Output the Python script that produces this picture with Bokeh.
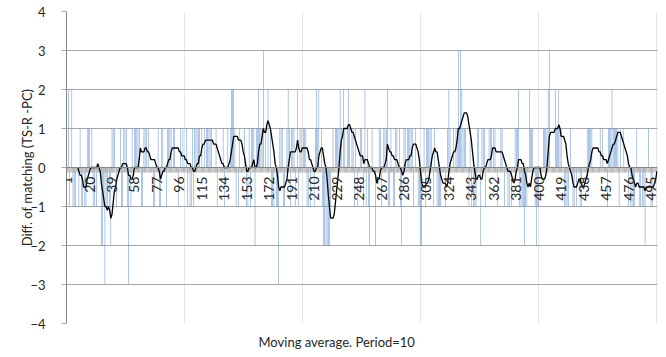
import numpy as np
from bokeh.plotting import figure
from bokeh.models import SingleIntervalTicker, Span, Title, LabelSet, ColumnDataSource
from bokeh.core.properties import value
from bokeh.embed import file_html
from bokeh.resources import INLINE

diffs = [
    0, 2, -1, 0, 2, -1, -1, -1, 0, 0,
    -1, 1, -1, -1, 0, -1, -1, 1, 1, 1,
    0, 1, -1, -1, 0, -1, 0, 0, 0, -2,
    -2, -1, -3, -1, -1, 0, -1, -2, 1, 1,
    1, 0, -1, 0, 0, 1, -1, -1, 1, 1,
    1, -1, -3, 0, -1, 1, 0, 1, 1, 1,
    1, 1, 0, -1, -1, 1, 1, 1, 0, 1,
    0, 0, 0, -1, -1, 0, 0, 1, -1, -1,
    1, 1, 0, 0, -1, 1, 1, 1, 1, 0,
    1, 1, 0, 0, -1, 0, 1, 0, 1, 0,
    0, 1, -1, 0, -1, -1, 1, -1, 1, 1,
    1, 1, 1, 0, 1, 0, 1, 0, 1, 1,
    1, 1, 1, 0, 0, 0, 1, -1, 0, 0,
    0, 0, 1, -1, 0, 0, 1, 0, 1, 2,
    2, 2, 1, -1, 0, -1, 1, 0, 0, 0,
    1, 0, -1, -1, 1, -1, 1, 1, 1, -2,
    1, 1, 2, 1, 1, 1, 3, 0, 1, 0,
    2, 0, 1, -1, -1, -1, 0, -1, -1, -3,
    1, 1, 1, -1, -1, 0, 1, 2, 1, -1,
    1, 1, 1, -1, 0, 2, -1, 1, 1, 0,
    1, 1, 1, -1, -1, 0, -1, 0, 0, -1,
    1, 2, 1, 2, 0, 1, -1, -2, -2, -2,
    -2, -2, -2, -1, 0, 1, 0, 1, 1, 1,
    1, 2, 1, 0, 2, 1, 0, 1, 2, 1,
    0, 1, 1, -1, 1, 0, -1, 0, 1, 1,
    0, -1, 2, -1, 1, -1, -2, 0, 1, 0,
    0, -2, 0, 0, 1, 1, -1, 0, 1, 1,
    1, 2, -1, -1, 1, 0, -1, -1, 1, 1,
    0, 1, -1, -2, 0, 1, 1, 0, 1, 1,
    1, 1, 1, -1, 0, 1, 0, -1, -1, -2,
    -2, 0, 1, -1, 1, 1, 1, 1, 1, 0,
    -1, 1, 0, -1, -1, -1, -1, 0, 0, 0,
    -1, 0, 1, 2, 1, 0, 0, 1, 0, 1,
    1, 3, 1, 3, 2, 1, 1, 1, 0, 0,
    -1, 1, -1, 0, -1, -1, -1, 1, 1, 0,
    -2, 1, 1, 1, -1, 0, 0, 1, 1, 1,
    0, 1, 1, 0, -1, 0, 0, 1, 1, 0,
    -1, 0, 0, -1, -1, 0, -1, 0, 0, 1,
    1, 1, 2, -1, -1, -1, -1, -2, -1, -1,
    0, 2, 1, 1, 1, 0, -1, -2, -1, -1,
    0, 0, 0, 1, 1, 1, 1, 2, 3, 0,
    0, 0, 0, 2, 1, 1, 2, 1, 1, 0,
    0, -1, -1, -1, -1, 0, 1, 0, -1, -1,
    0, -1, 0, 0, -1, -1, 0, 0, 0, 0,
    1, 1, 1, 1, 1, 0, 0, 0, 0, 0,
    0, 1, 0, 1, 0, 0, 0, -1, 1, 1,
    1, 2, 1, 1, 1, 1, 1, -1, 1, 0,
    0, 1, 0, 0, 0, -1, 0, -1, -1, -1,
    -1, 0, 1, 0, -1, -1, 0, -1, -1, -2,
    0, 0, 1, 0, -1, -1, 0, 0, 0, 0,
]
period = 10
tick_positions = [1, 20, 39, 58, 77, 96, 115, 134, 153, 172, 191, 210, 229, 248,
                  267, 286, 305, 324, 343, 362, 381, 400, 419, 438, 457, 476, 495]
tick_labels = ["1", "20", "39", "58", "77", "96", "115", "134", "153", "172", "191",
               "210", "229", "248", "267", "286", "305", "324", "343", "362", "381",
               "400", "419", "438", "457", "476", "495"]
y_title = "Diff. of matching (TS-R -PC)"
x_title = "Moving average. Period=10"

FONT = "Lato"
TEXT = "#262626"
GRID = "#A6A6A6"

n = len(diffs)
cats = np.arange(1, n + 1)
ma = np.convolve(np.array(diffs, dtype=float), np.ones(period) / period, mode="valid")
ma_x = cats[period - 1:]
bounds = np.arange(0.5, n + 1.0, 1.0)

p = figure(width=666, height=357, x_range=(0.5, n + 0.5), y_range=(-4, 4),
           x_axis_location=None, output_backend="svg", toolbar_location=None,
           min_border_left=66, min_border_right=9, min_border_top=11,
           min_border_bottom=33)
p.outline_line_color = None
p.background_fill_color = "white"
p.border_fill_color = "white"

ax = p.yaxis[0]
ax.ticker = SingleIntervalTicker(interval=1, num_minor_ticks=0)
ax.axis_line_color = "#868686"
ax.major_tick_line_color = GRID
ax.major_tick_out = 5
ax.major_tick_in = 0
ax.minor_tick_line_color = None
ax.major_label_text_font = FONT
ax.major_label_text_font_size = "13px"
ax.major_label_text_color = TEXT
ax.major_label_standoff = 16
ax.axis_label = y_title
ax.axis_label_text_font = FONT
ax.axis_label_text_font_size = "13px"
ax.axis_label_text_font_style = "normal"
ax.axis_label_text_color = TEXT
ax.axis_label_standoff = -8
p.ygrid.grid_line_color = GRID

# bars
p.vbar(x=cats, top=diffs, bottom=0, width=0.42, fill_color="#5F8FCC", line_color=None)

# category axis at zero: line, dense tick marks, rotated labels
p.add_layout(Span(location=0, dimension="width", line_color="#868686", line_width=1))
p.segment(x0=bounds, y0=0, x1=bounds, y1=-0.13, line_color="#B4B4B4", line_width=1)
lab_src = ColumnDataSource(data=dict(x=tick_positions, y=[0] * len(tick_positions),
                                     text=tick_labels))
p.add_layout(LabelSet(x="x", y="y", text="text", source=lab_src, angle=np.pi / 2,
                      text_align="right", text_baseline="middle", y_offset=-9,
                      text_font=value(FONT), text_font_size=value("14px"),
                      text_color=value(TEXT)))

# moving average
p.line(ma_x, ma, line_color="black", line_width=1.3)

p.add_layout(Title(text=x_title, align="left", offset=192, standoff=16, text_font=FONT,
                   text_font_size="13px", text_font_style="normal",
                   text_color=TEXT), "below")

open("out.html", "w").write(file_html(p, INLINE))
